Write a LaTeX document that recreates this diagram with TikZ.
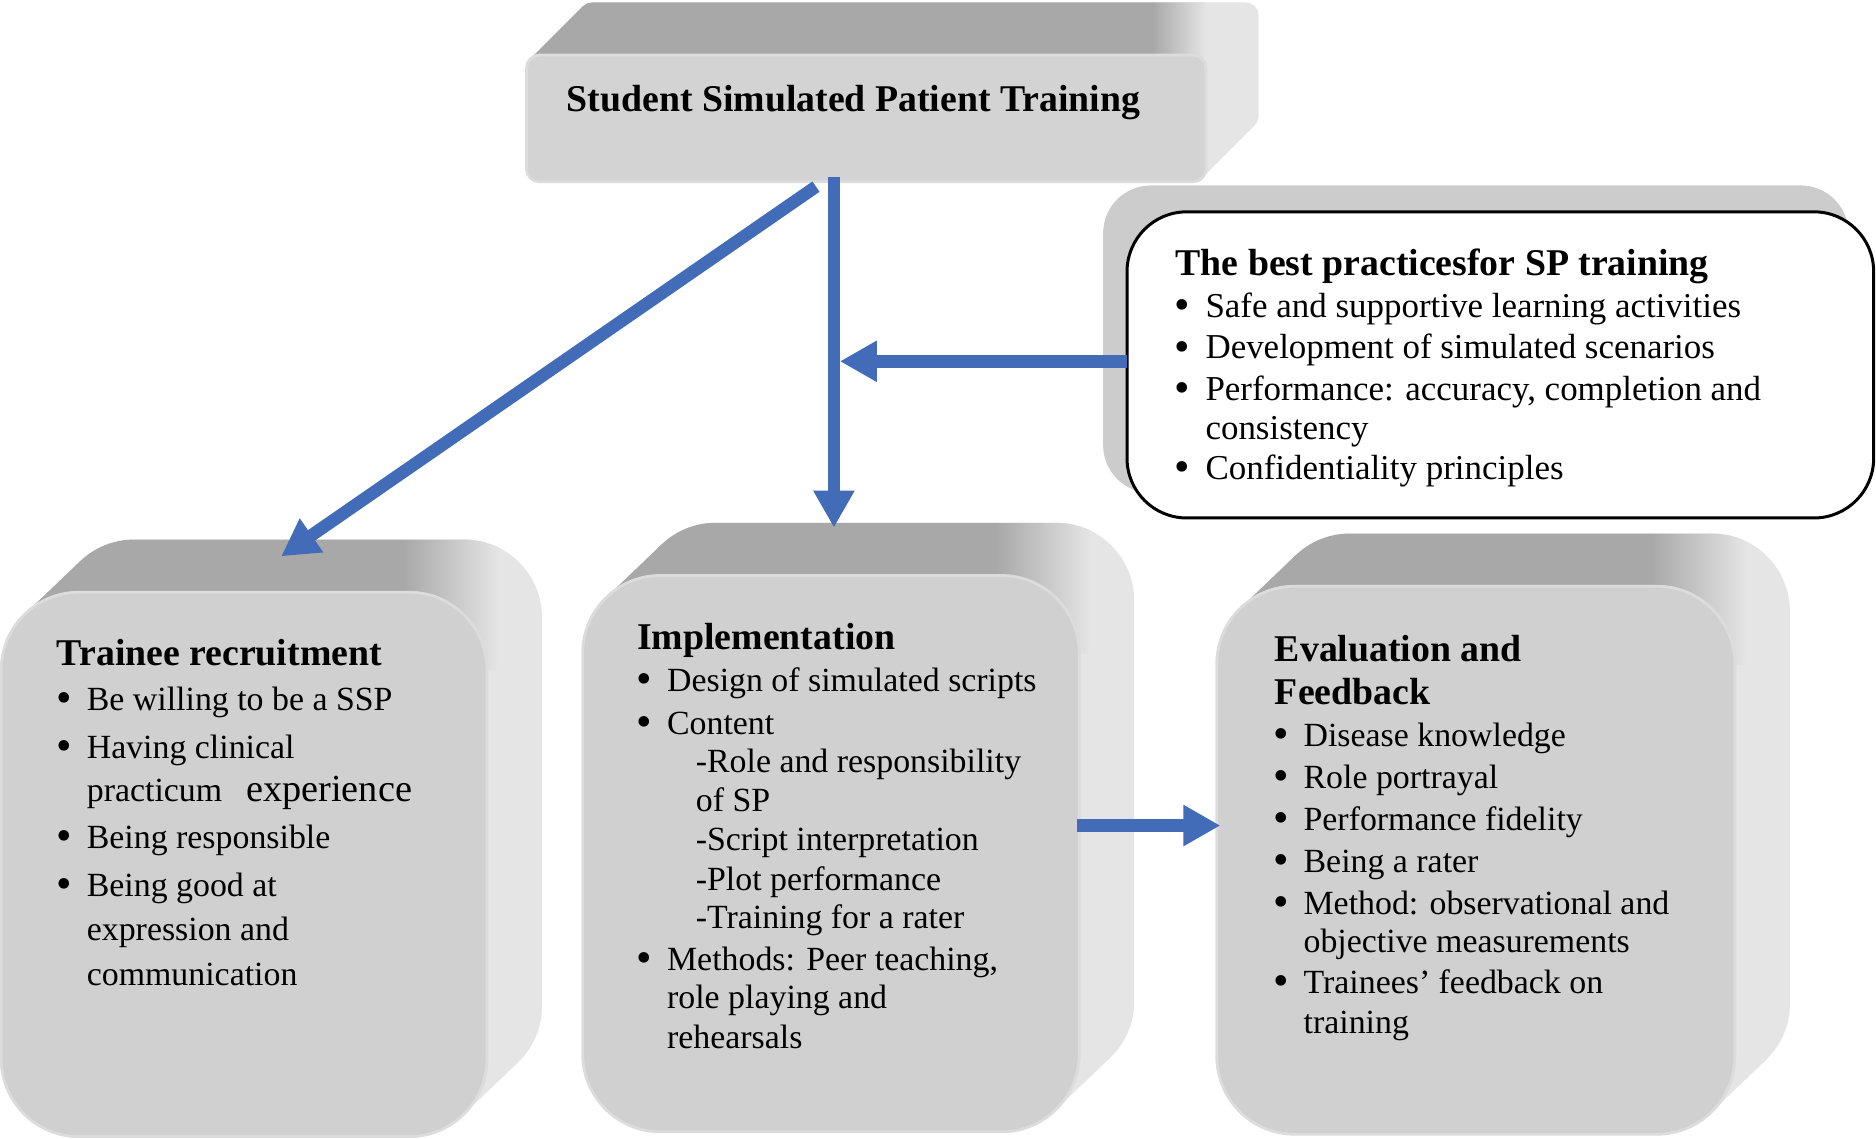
\documentclass[tikz,border=0pt]{standalone}
\usepackage{fontspec}
\setmainfont{Liberation Serif}
\usetikzlibrary{arrows.meta}
\definecolor{topcol}{RGB}{168,168,168}
\definecolor{sidecol}{RGB}{229,229,229}
\definecolor{frontcol}{RGB}{208,208,208}
\definecolor{topfront}{RGB}{211,211,211}
\definecolor{rimcol}{RGB}{220,220,220}
\definecolor{bpshadow}{RGB}{204,204,204}
\definecolor{arrblue}{RGB}{66,108,184}
\tikzset{
  body/.style={inner sep=0, anchor=base west, font=\fontsize{9.63}{11}\selectfont},
  bpbody/.style={inner sep=0, anchor=base west, font=\fontsize{9.94}{11}\selectfont},
  head/.style={inner sep=0, anchor=base west, font=\fontsize{10.75}{12}\selectfont\bfseries},
  arr/.style={draw=arrblue, line width=3.57pt, -{Triangle[length=10.5pt,width=11pt]}},
}
\newcommand\bul{\llap{\raisebox{-0.6pt}{\fontsize{12.6}{12.6}\selectfont\textbullet}\hspace{4.3pt}}}
% 3D rounded box: x0 y0 x1 y1 r frontcolour  (image coordinates, y down)
\newcommand\solidbox[6]{%
  \pgfmathsetmacro\Ax{#1+0.309*#5}\pgfmathsetmacro\Ay{#2+0.277*#5}%
  \pgfmathsetmacro\Bx{#3-0.309*#5}\pgfmathsetmacro\By{#4-0.277*#5}%
  \pgfmathsetmacro\Cx{#1+\ddx}\pgfmathsetmacro\Cy{#2+\ddy}%
  \pgfmathsetmacro\Dx{#3+\ddx}\pgfmathsetmacro\Dy{#4+\ddy}%
  \pgfmathsetmacro\Ex{\Bx+\ddx}\pgfmathsetmacro\Ey{\By+\ddy}%
  \pgfmathsetmacro\Ra{#5*0.3404}%
  \pgfmathsetmacro\Ga{#3-\gb}\pgfmathsetmacro\Gb{#3+\gc}%
  \pgfmathsetmacro\Yt{#2+#5}\pgfmathsetmacro\Yu{#2-100}\pgfmathsetmacro\Xl{#1-60}%
  \fill[sidecol,rounded corners=\Ra pt] (\Cx,\Cy) rectangle (\Dx,\Dy);
  \fill[sidecol] (\Ax,\Ay) -- ++(\ddx,\ddy) -- (\Ex,\Ey) -- (\Bx,\By) -- cycle;
  \begin{scope}
    \clip (\Xl,\Yu) rectangle (\Ga,\Yt);
    \fill[topcol,rounded corners=\Ra pt] (\Cx,\Cy) rectangle (\Dx,\Dy);
    \fill[topcol] (\Ax,\Ay) -- ++(\ddx,\ddy) -- (\Ex,\Ey) -- (\Bx,\By) -- cycle;
  \end{scope}
  \begin{scope}
    \clip[rounded corners=\Ra pt] (\Cx,\Cy) rectangle (\Dx,\Dy);
    \shade[left color=topcol,right color=sidecol] (\Ga,\Yu) rectangle (\Gb,\Yt);
  \end{scope}
  \fill[#6,rounded corners=\Ra pt,draw=rimcol,line width=0.8pt] (#1,#2) rectangle (#3,#4);
}
\begin{document}
\begin{tikzpicture}[x=0.011964cm,y=-0.011964cm]
\useasboundingbox (0,0) rectangle (1568,952);
\fill[white] (0,0) rectangle (1568,952);

% top box
\def\ddx{44}\def\ddy{-44}\def\gb{45}\def\gc{0}
\solidbox{440}{46}{1008}{152}{11}{topfront}
% lower boxes
\def\ddx{46}\def\ddy{-44}\def\gb{70}\def\gc{10}
\solidbox{1}{495}{407}{950}{65}{frontcol}
\solidbox{487}{481}{902}{946}{65}{frontcol}
\solidbox{1017}{490}{1450}{948}{65}{frontcol}

% best practices box
\fill[bpshadow,rounded corners=13.6pt] (922,155) rectangle (1545,412);
\node[draw=black,fill=white,line width=0.85pt,rounded corners=17pt,
      minimum width=212.4pt,minimum height=87.1pt,inner sep=0] (bp) at (1254,305) {};

% connector end points
\coordinate (sspV) at (697,148);
\coordinate (implTop) at (697,441);
\coordinate (sspD) at (682,156);
\coordinate (recTop) at (235,465);
\coordinate (bpOut) at (942,302);
\coordinate (vJoin) at (702,302);
\coordinate (implOut) at (900,690);
\coordinate (evalIn) at (1020,690);

\draw[arr] (sspV) -- (implTop);
\draw[arr] (sspD) -- (recTop);
\draw[arr] (bpOut) -- (vJoin);
\draw[arr] (implOut) -- (evalIn);

% texts
\node[head] (ssp) at (473,93) {Student Simulated Patient Training};

\node[head] (bpt) at (982,230) {The best practicesfor SP training};
\node[bpbody] (bp1) at (1007,265) {\bul Safe and supportive learning activities};
\node[bpbody] (bp2) at (1007,300) {\bul Development of simulated scenarios};
\node[bpbody] (bp3) at (1007,335) {\bul Performance: accuracy, completion and};
\node[bpbody] (bp4) at (1007,367) {consistency};
\node[bpbody] (bp5) at (1007,401) {\bul Confidentiality principles};

\node[head] (trt) at (47,556) {Trainee recruitment};
\node[body] (tr1) at (72,594) {\bul Be willing to be a SSP};
\node[body] (tr2) at (72,634) {\bul Having clinical};
\node[body] (tr3) at (72,670) {practicum\hspace{6.8pt}{\fontsize{10.9}{12}\selectfont experience}};
\node[body] (tr4) at (72,709) {\bul Being responsible};
\node[body] (tr5) at (72,749) {\bul Being good at};
\node[body] (tr6) at (72,786) {expression and};
\node[body] (tr7) at (72,824) {communication};

\node[head] (imt) at (532,543) {Implementation};
\node[body] (im1) at (557,578) {\bul Design of simulated scripts};
\node[body] (im2) at (557,614) {\bul Content};
\node[body] (im3) at (581,646) {-Role and responsibility};
\node[body] (im4) at (581,678) {of SP};
\node[body] (im5) at (581,711) {-Script interpretation};
\node[body] (im6) at (581,744) {-Plot performance};
\node[body] (im7) at (581,776) {-Training for a rater};
\node[body] (im8) at (557,811) {\bul Methods: Peer teaching,};
\node[body] (im9) at (557,843) {role playing and};
\node[body] (im10) at (557,876) {rehearsals};

\node[head] (evt1) at (1065,553) {Evaluation and};
\node[head] (evt2) at (1065,589) {Feedback};
\node[body] (ev1) at (1089,624) {\bul Disease knowledge};
\node[body] (ev2) at (1089,659) {\bul Role portrayal};
\node[body] (ev3) at (1089,694) {\bul Performance fidelity};
\node[body] (ev4) at (1089,729) {\bul Being a rater};
\node[body] (ev5) at (1089,764) {\bul Method: observational and};
\node[body] (ev6) at (1089,796) {objective measurements};
\node[body] (ev7) at (1089,830) {\bul Trainees’ feedback on};
\node[body] (ev8) at (1089,864) {training};
\end{tikzpicture}
\end{document}
